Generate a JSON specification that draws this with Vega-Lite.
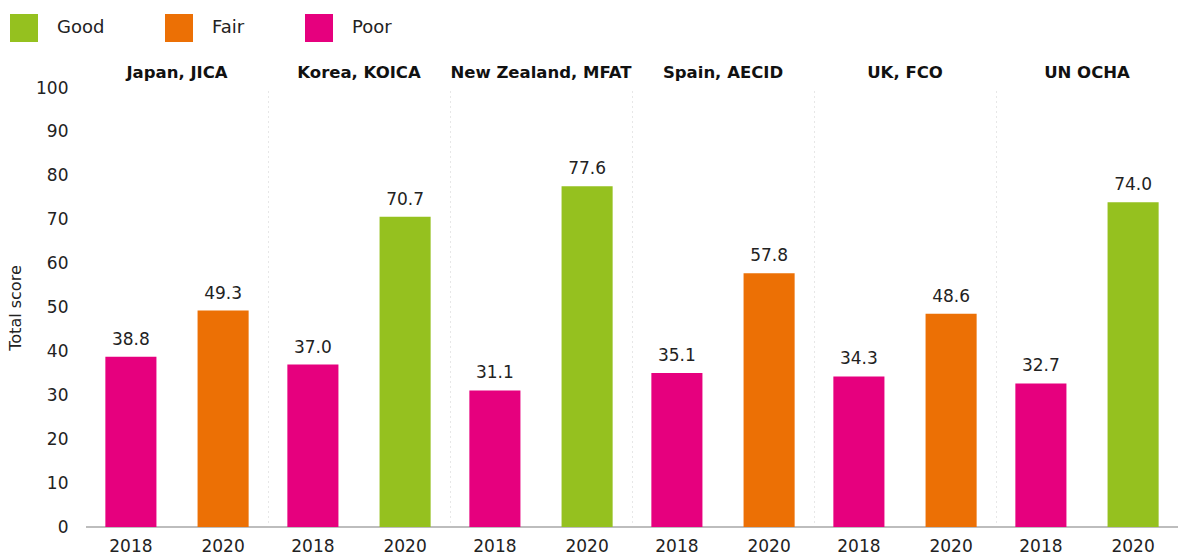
{
  "$schema": "https://vega.github.io/schema/vega-lite/v6.json",
  "width": 1092,
  "height": 439,
  "autosize": {"type": "none"},
  "padding": {"left": 86, "top": 88, "right": 0, "bottom": 28},
  "config": {"font": "DejaVu Sans", "view": {"stroke": null}},
  "data": {
    "values": [
      {"agency": "Japan, JICA", "year": "2018", "score": 38.8, "rating": "Poor"},
      {"agency": "Japan, JICA", "year": "2020", "score": 49.3, "rating": "Fair"},
      {"agency": "Korea, KOICA", "year": "2018", "score": 37.0, "rating": "Poor"},
      {"agency": "Korea, KOICA", "year": "2020", "score": 70.7, "rating": "Good"},
      {"agency": "New Zealand, MFAT", "year": "2018", "score": 31.1, "rating": "Poor"},
      {"agency": "New Zealand, MFAT", "year": "2020", "score": 77.6, "rating": "Good"},
      {"agency": "Spain, AECID", "year": "2018", "score": 35.1, "rating": "Poor"},
      {"agency": "Spain, AECID", "year": "2020", "score": 57.8, "rating": "Fair"},
      {"agency": "UK, FCO", "year": "2018", "score": 34.3, "rating": "Poor"},
      {"agency": "UK, FCO", "year": "2020", "score": 48.6, "rating": "Fair"},
      {"agency": "UN OCHA", "year": "2018", "score": 32.7, "rating": "Poor"},
      {"agency": "UN OCHA", "year": "2020", "score": 74.0, "rating": "Good"}
    ]
  },
  "encoding": {
    "x": {
      "field": "agency", "type": "nominal",
      "sort": ["Japan, JICA", "Korea, KOICA", "New Zealand, MFAT", "Spain, AECID", "UK, FCO", "UN OCHA"],
      "scale": {"paddingInner": 0, "paddingOuter": 0},
      "axis": {
        "orient": "top", "title": null, "labelAngle": 0,
        "labelFontWeight": "bold", "labelFontSize": 16.5, "labelColor": "#111",
        "labelLimit": 400, "labelOverlap": false,
        "ticks": false, "domain": false, "labelPadding": 8,
        "grid": true, "bandPosition": 0, "gridDash": [1, 4], "gridColor": "#cfcfcf",
        "gridOpacity": {"condition": {"test": "datum.value === 'Japan, JICA'", "value": 0}, "value": 1}
      }
    },
    "xOffset": {"field": "year", "type": "nominal", "scale": {"paddingInner": 0.446, "paddingOuter": 0.21}}
  },
  "layer": [
    {
      "mark": {"type": "rule", "color": "#bdbdbd", "strokeWidth": 2},
      "encoding": {"x": null, "xOffset": null, "y": {"datum": 0, "type": "quantitative"}}
    },
    {
      "mark": {"type": "bar"},
      "encoding": {
        "y": {
          "field": "score", "type": "quantitative",
          "scale": {"domain": [0, 100]},
          "axis": {
            "values": [0, 10, 20, 30, 40, 50, 60, 70, 80, 90, 100],
            "title": "Total score", "titleFontSize": 16, "titleFontWeight": "normal", "titleColor": "#222", "titlePadding": 12,
            "labelFontSize": 17, "labelColor": "#222", "labelPadding": 18,
            "ticks": false, "domain": false,
            "gridColor": "#e3e3e3", "gridWidth": 1.5
          }
        },
        "color": {
          "field": "rating", "type": "nominal",
          "scale": {"domain": ["Good", "Fair", "Poor"], "range": ["#95c11f", "#ec7005", "#e6007e"]},
          "legend": {
            "orient": "none", "legendX": -76, "legendY": -74, "direction": "horizontal",
            "title": null, "symbolType": "square", "symbolSize": 784, "symbolStrokeWidth": 0, "symbolOpacity": 1,
            "labelFontSize": 18, "labelColor": "#222", "labelOffset": 19, "columnPadding": 60
          }
        }
      }
    },
    {
      "mark": {"type": "text", "baseline": "bottom", "dy": -8, "fontSize": 17, "color": "#222"},
      "encoding": {
        "y": {"field": "score", "type": "quantitative"},
        "text": {"field": "score", "type": "quantitative", "format": ".1f"}
      }
    },
    {
      "mark": {"type": "text", "baseline": "top", "dy": 12, "fontSize": 17, "color": "#222"},
      "encoding": {
        "y": {"datum": 0, "type": "quantitative"},
        "text": {"field": "year", "type": "nominal"}
      }
    }
  ]
}
